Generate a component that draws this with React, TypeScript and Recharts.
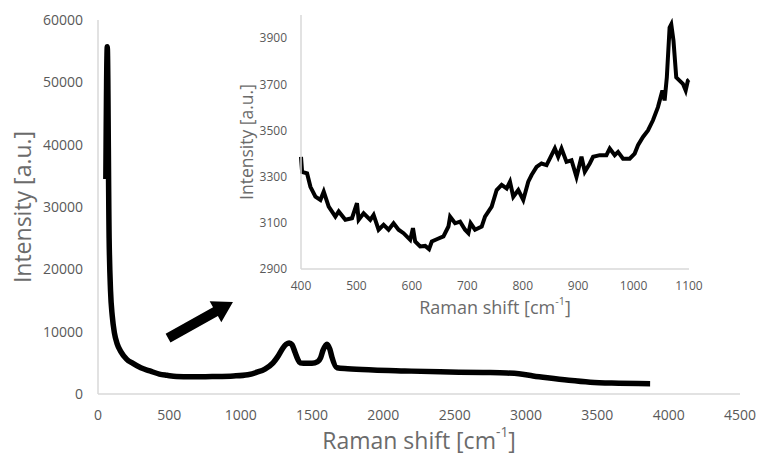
import React from "react";
import {
  LineChart,
  Line,
  XAxis,
  YAxis,
  ReferenceLine
} from "recharts";

// full spectrum
const MAIN_SHIFT = [55, 65, 78, 88, 100, 115, 135, 160, 200, 245, 300, 364, 430, 484, 550, 650, 800, 950, 1050, 1115, 1170, 1227, 1260, 1297, 1320, 1340, 1360, 1381, 1400, 1416, 1440, 1500, 1540, 1560, 1577, 1605, 1625, 1640, 1675, 1750, 1928, 2150, 2398, 2700, 2866, 2950, 3050, 3150, 3300, 3450, 3600, 3870];
const MAIN_INTENSITY = [34500, 55700, 25000, 16500, 12500, 9800, 8000, 6800, 5600, 4900, 4200, 3700, 3200, 3000, 2800, 2750, 2800, 2900, 3100, 3500, 4000, 5000, 6000, 7400, 8000, 8200, 7900, 6700, 5600, 5000, 4950, 4950, 5200, 5800, 7000, 8000, 7200, 5900, 4200, 4050, 3850, 3700, 3550, 3450, 3370, 3250, 2900, 2600, 2200, 1900, 1750, 1650];

// zoom on 400-1100 cm-1
const INSET_SHIFT = [400, 402, 411, 417, 426, 435, 441, 450, 462, 468, 480, 492, 501, 504, 513, 525, 531, 540, 549, 558, 567, 576, 585, 597, 602, 606, 615, 624, 631, 636, 645, 657, 666, 669, 678, 687, 696, 702, 706, 714, 726, 732, 744, 753, 762, 771, 777, 783, 792, 801, 810, 816, 825, 834, 843, 852, 858, 864, 870, 879, 888, 897, 906, 912, 921, 927, 939, 951, 957, 966, 972, 981, 993, 1002, 1008, 1017, 1026, 1035, 1044, 1052, 1056, 1060, 1065, 1068, 1072, 1077, 1083, 1089, 1094, 1098, 1100];
const INSET_INTENSITY = [3386, 3320, 3314, 3256, 3213, 3199, 3235, 3170, 3127, 3149, 3113, 3120, 3185, 3113, 3141, 3113, 3134, 3070, 3091, 3070, 3098, 3070, 3055, 3026, 3077, 3019, 2998, 3000, 2986, 3019, 3029, 3041, 3084, 3127, 3098, 3105, 3070, 3055, 3098, 3070, 3084, 3127, 3170, 3242, 3264, 3249, 3278, 3213, 3242, 3199, 3278, 3307, 3342, 3357, 3350, 3393, 3422, 3386, 3422, 3364, 3371, 3299, 3386, 3321, 3357, 3386, 3393, 3393, 3422, 3393, 3407, 3378, 3378, 3400, 3436, 3472, 3500, 3544, 3601, 3673, 3630, 3730, 3946, 3960, 3889, 3730, 3716, 3702, 3673, 3716, 3720];

const MAIN_X_TICKS = [0, 500, 1000, 1500, 2000, 2500, 3000, 3500, 4000, 4500];
const MAIN_Y_TICKS = [0, 10000, 20000, 30000, 40000, 50000, 60000];
const INSET_X_TICKS = [400, 500, 600, 700, 800, 900, 1000, 1100];
const INSET_Y_TICKS = [2900, 3100, 3300, 3500, 3700, 3900];

// arrow pointing from the low-shift baseline towards the inset
const ARROW = [
  { x: 491, y: 8980 },
  { x: 946, y: 14760 }
];

const mainData = MAIN_SHIFT.map((s, i) => ({ shift: s, intensity: MAIN_INTENSITY[i] }));
const insetData = INSET_SHIFT.map((s, i) => ({ shift: s, intensity: INSET_INTENSITY[i] }));

const FONT = "'Open Sans', sans-serif";
const TICK_COLOR = "#595959";
const TITLE_COLOR = "#6b6b6b";
const AXIS_COLOR = "#d9d9d9";

// x-axis title with a superscript exponent; cy is the absolute centre line
const RamanTitle = (props: any) => {
  const { viewBox, size, cy } = props;
  const cx = viewBox.x + viewBox.width / 2;
  return (
    <text x={cx} y={cy} textAnchor="middle" dominantBaseline="central" fontFamily={FONT} fontSize={size} fill={TITLE_COLOR}>
      <tspan>Raman shift [cm</tspan>
      <tspan fontSize={size * 0.6} dy={-size * 0.38}>-1</tspan>
      <tspan dy={size * 0.38}>]</tspan>
    </text>
  );
};

const IntensityTitle = (props: any) => {
  const { viewBox, size, cx } = props;
  const cy = viewBox.y + viewBox.height / 2;
  return (
    <text x={cx} y={cy} textAnchor="middle" dominantBaseline="central" fontFamily={FONT} fontSize={size} fill={TITLE_COLOR} transform={`rotate(-90 ${cx} ${cy})`}>
      Intensity [a.u.]
    </text>
  );
};

const Arrow = (props: any) => {
  const { x1, y1, x2, y2 } = props;
  const dx = x2 - x1;
  const dy = y2 - y1;
  const len = Math.sqrt(dx * dx + dy * dy);
  const ux = dx / len;
  const uy = dy / len;
  const nx = -uy;
  const ny = ux;
  const head = 20;
  const hw = 12;
  const sw = 5;
  const bx = x2 - ux * head;
  const by = y2 - uy * head;
  const pts = [
    [x1 + nx * sw, y1 + ny * sw],
    [bx + nx * sw, by + ny * sw],
    [bx + nx * hw, by + ny * hw],
    [x2, y2],
    [bx - nx * hw, by - ny * hw],
    [bx - nx * sw, by - ny * sw],
    [x1 - nx * sw, y1 - ny * sw]
  ];
  return <polygon points={pts.map((p) => p.join(",")).join(" ")} fill="#000" />;
};

export default function App() {
  return (
    <div style={{ position: "absolute", left: 0, top: 0, width: 762, height: 460, background: "#fff" }}>
      <LineChart width={762} height={460} data={mainData} margin={{ top: 20, right: 22, bottom: 0, left: 0 }}>
        <XAxis
          dataKey="shift"
          type="number"
          domain={[0, 4500]}
          ticks={MAIN_X_TICKS}
          interval={0}
          height={66}
          tickLine={false}
          tickMargin={10}
          axisLine={{ stroke: AXIS_COLOR, strokeWidth: 1.5 }}
          tick={{ fill: TICK_COLOR, fontSize: 14, fontFamily: FONT }}
          label={<RamanTitle size={23} cy={440} />}
        />
        <YAxis
          type="number"
          domain={[0, 60000]}
          ticks={MAIN_Y_TICKS}
          interval={0}
          width={98}
          tickLine={false}
          tickMargin={9}
          axisLine={{ stroke: AXIS_COLOR, strokeWidth: 1.5 }}
          tick={{ fill: TICK_COLOR, fontSize: 14, fontFamily: FONT }}
          label={<IntensityTitle size={23} cx={22} />}
        />
        <ReferenceLine segment={ARROW} shape={<Arrow />} />
        <Line
          dataKey="intensity"
          type="monotone"
          stroke="#000"
          strokeWidth={5.5}
          dot={false}
          isAnimationActive={false}
        />
      </LineChart>

      <div style={{ position: "absolute", left: 230, top: 0 }}>
        <LineChart width={480} height={330} data={insetData} margin={{ top: 15, right: 21, bottom: 0, left: 0 }}>
          <XAxis
            dataKey="shift"
            type="number"
            domain={[400, 1100]}
            ticks={INSET_X_TICKS}
            interval={0}
            height={61}
            tickLine={false}
            tickMargin={6}
            axisLine={{ stroke: AXIS_COLOR, strokeWidth: 1.5 }}
            tick={{ fill: TICK_COLOR, fontSize: 12, fontFamily: FONT }}
            label={<RamanTitle size={18} cy={307} />}
          />
          <YAxis
            type="number"
            domain={[2900, 4000]}
            ticks={INSET_Y_TICKS}
            interval={0}
            width={71}
            tickLine={false}
            tickMargin={8}
            axisLine={{ stroke: AXIS_COLOR, strokeWidth: 1.5 }}
            tick={{ fill: TICK_COLOR, fontSize: 12, fontFamily: FONT }}
            label={<IntensityTitle size={17.5} cx={16} />}
          />
          <Line
            dataKey="intensity"
            type="linear"
            stroke="#000"
            strokeWidth={4}
            dot={false}
            isAnimationActive={false}
          />
        </LineChart>
      </div>
    </div>
  );
}
